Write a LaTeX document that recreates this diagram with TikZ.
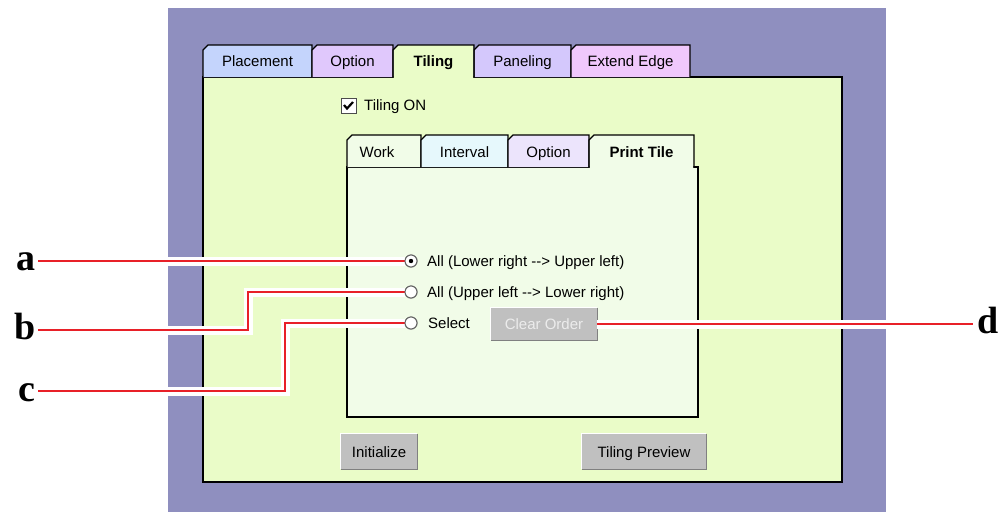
\documentclass[tikz,border=0pt]{standalone}
\usepackage{fontspec}
\setmainfont{Liberation Sans}
\newfontfamily\labelfont{Liberation Serif}
\definecolor{bgpurple}{RGB}{143,143,191}
\definecolor{panelgreen}{RGB}{234,252,200}
\definecolor{innergreen}{RGB}{241,252,232}
\definecolor{tabblue}{RGB}{196,212,252}
\definecolor{tablilac}{RGB}{224,200,252}
\definecolor{tabviolet}{RGB}{212,200,252}
\definecolor{tabpink}{RGB}{240,200,252}
\definecolor{tabcyan}{RGB}{230,248,252}
\definecolor{tablilac2}{RGB}{236,228,252}
\definecolor{btngray}{RGB}{192,192,192}
\definecolor{callred}{RGB}{232,32,40}
\begin{document}
\begin{tikzpicture}[x=1pt,y=-1pt,
  ui/.style={font=\fontsize{15}{17}\selectfont, inner sep=0pt, text height=11pt, text depth=0pt},
  uibold/.style={ui, font=\fontsize{15}{17}\selectfont\bfseries},
  tabline/.style={draw=black, line width=1.2pt, line join=miter},
  radio/.style={circle, draw=gray!80!black, fill=white, minimum size=12pt, inner sep=0pt, line width=1pt},
  button/.style={fill=btngray, inner sep=0pt, text height=11pt, text depth=0pt, font=\fontsize{15}{17}\selectfont},
  lbl/.style={font=\labelfont\bfseries\fontsize{38}{40}\selectfont, inner sep=0pt},
  redline/.style={draw=callred, line width=2pt, line join=miter, preaction={draw=white, line width=9pt}}
]
\path[use as bounding box] (0,0) rectangle (1000,512);
\fill[white] (0,0) rectangle (1000,512);
\fill[bgpurple] (168,8) rectangle (886,512);

% outer panel
\draw[tabline, fill=panelgreen] (203,77) rectangle (842,482);
% outer tabs
\draw[tabline, fill=tabblue] (203,77) -- (203,50) -- (208,45) -- (312,45) -- (312,77);
\draw[tabline, fill=tablilac] (312,77) -- (312,50) -- (317,45) -- (393,45) -- (393,77);
\draw[tabline, fill=tabviolet] (474,77) -- (474,50) -- (479,45) -- (571,45) -- (571,77);
\draw[tabline, fill=tabpink] (571,77) -- (571,50) -- (576,45) -- (690,45) -- (690,77);
\fill[panelgreen] (393.6,78.5) -- (393.6,50) -- (398,45) -- (473.4,45) -- (473.4,78.5) -- cycle;
\draw[tabline] (393,77.6) -- (393,50) -- (398,45) -- (474,45) -- (474,77.6);
\node[ui] (tPlacement) at (257.5,61) {Placement};
\node[ui] (tOption) at (352.5,61) {Option};
\node[uibold] (tTiling) at (433.5,61) {Tiling};
\node[ui] (tPaneling) at (522.5,61) {Paneling};
\node[ui] (tExtend) at (630.5,61) {Extend Edge};

% checkbox
\node[draw=gray!60!black, fill=white, minimum size=15pt, inner sep=0pt, line width=1pt] (chk) at (348.5,105.5) {};
\draw[line width=2.2pt, line join=miter] ([shift={(-4.5,-0.5)}]chk.center) -- ([shift={(-1.5,3)}]chk.center) -- ([shift={(4.5,-3.5)}]chk.center);
\node[ui, anchor=west] (tOn) at (364,105) {Tiling ON};

% inner panel
\draw[tabline, fill=innergreen] (347,167) rectangle (698,417);
\draw[tabline, fill=innergreen] (347,167) -- (347,140) -- (352,135) -- (421,135) -- (421,167);
\draw[tabline, fill=tabcyan] (421,167) -- (421,140) -- (426,135) -- (508,135) -- (508,167);
\draw[tabline, fill=tablilac2] (508,167) -- (508,140) -- (513,135) -- (589,135) -- (589,167);
\fill[innergreen] (589.6,168.5) -- (589.6,140) -- (594,135) -- (693.4,135) -- (693.4,168.5) -- cycle;
\draw[tabline] (589,167.6) -- (589,140) -- (594,135) -- (694,135) -- (694,167.6);
\node[ui] (tWork) at (377,152) {Work};
\node[ui] (tInterval) at (464.5,152) {Interval};
\node[ui] (tOption2) at (548.5,152) {Option};
\node[uibold] (tPrint) at (641.5,152) {Print Tile};

% buttons
\node[button, minimum width=76pt, minimum height=35pt] (bInit) at (379,451.5) {Initialize};
\node[button, minimum width=124pt, minimum height=35pt] (bPrev) at (644,451.5) {Tiling Preview};
\node[button, minimum width=106pt, minimum height=32pt, text=gray!15] (bClear) at (544,324) {Clear Order};
\foreach \b in {bInit,bPrev,bClear}{
  \draw[white, line width=1.2pt] (\b.south west) -- (\b.north west) -- (\b.north east);
  \draw[gray, line width=1.2pt] (\b.north east) -- (\b.south east) -- (\b.south west);
}

% labels
\node[lbl, anchor=base east] (la) at (36,270) {a};
\node[lbl, anchor=base east] (lb) at (36,339) {b};
\node[lbl, anchor=base east] (lc) at (36,401) {c};
\node[lbl, anchor=base west] (ld) at (977,333) {d};

% radios
\node[radio] (ra) at (411,261) {};
\node[radio] (rb) at (411,292) {};
\node[radio] (rc) at (411,323) {};

% bend points
\coordinate (kb) at (248,311);
\coordinate (kc) at (285,357);

% connectors
\draw[redline] ([xshift=2pt]la.base east |- ra.west) -- (ra.west);
\draw[redline] ([shift={(2,-9)}]lb.base east) -| (kb) |- (rb.west);
\draw[redline] ([shift={(2,-10)}]lc.base east) -| (kc) |- (rc.west);
\draw[redline] (bClear.east) -- ([shift={(-4,0)}]bClear.east -| ld.west);

% radios on top
\node[radio] at (ra) {};
\fill (ra.center) circle (2.2);
\node[radio] at (rb) {};
\node[radio] at (rc) {};
\node[ui, anchor=west] (ta) at (427,261) {All (Lower right -{}-> Upper left)};
\node[ui, anchor=west] (tb) at (427,292) {All (Upper left -{}-> Lower right)};
\node[ui, anchor=west] (tc) at (428,323) {Select};
\end{tikzpicture}
\end{document}
